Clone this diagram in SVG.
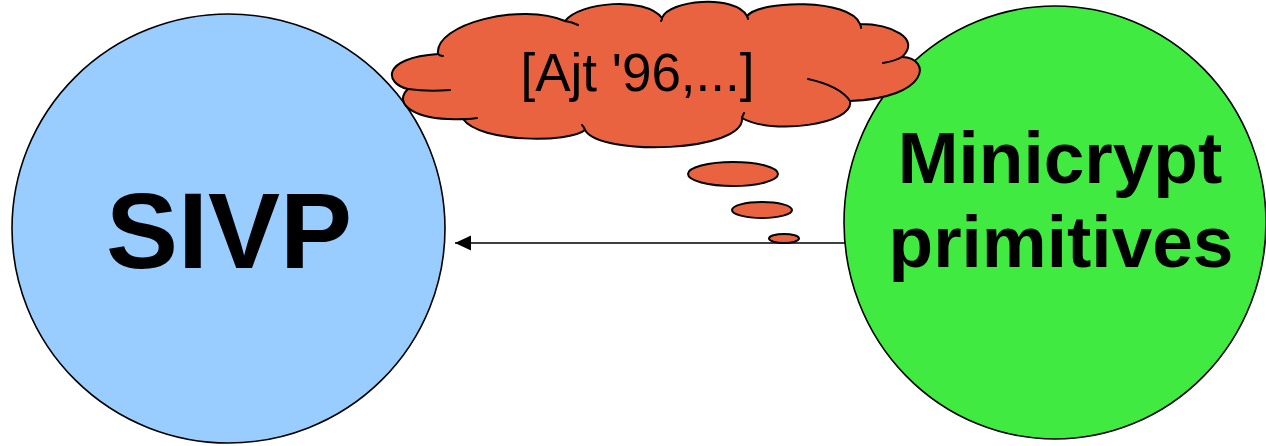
<svg xmlns="http://www.w3.org/2000/svg" width="1266" height="446" viewBox="0 0 1266 446">
  <defs>
    <marker id="arrowhead" markerWidth="17" markerHeight="16" refX="16" refY="8" orient="auto" markerUnits="userSpaceOnUse">
      <path d="M0,0.5 L16,8 L0,15.5 Z" fill="#000"/>
    </marker>
    <style>
      .node { stroke: #000; stroke-width: 1.6; }
      .cloud { fill: #E96341; stroke: #000; stroke-width: 2; }
      .tail { fill: none; stroke: #000; stroke-width: 2; stroke-linecap: round; }
      .big { font-family: "Liberation Sans", Arial, sans-serif; font-weight: bold; fill: #000; text-anchor: middle; }
      .label { font-family: "Liberation Sans", Arial, sans-serif; fill: #000; text-anchor: middle; }
      .edge { stroke: #000; stroke-width: 1.6; fill: none; }
    </style>
  </defs>

  <rect width="1266" height="446" fill="#fff"/>

  <!-- SIVP -->
  <g id="sivp">
    <ellipse class="node" cx="228.5" cy="228.5" rx="216.5" ry="214.5" fill="#99CCFF"/>
    <text class="big" x="229" y="268" font-size="108">SIVP</text>
  </g>

  <!-- Minicrypt primitives -->
  <g id="minicrypt">
    <ellipse class="node" cx="1055" cy="222.5" rx="211" ry="216.5" fill="#40EA40"/>
    <text class="big" x="1060" y="183" font-size="73">Minicrypt</text>
    <text class="big" x="1061" y="267" font-size="73">primitives</text>
  </g>

  <!-- implication arrow -->
  <g id="connectors">
    <line class="edge" x1="845" y1="243" x2="455" y2="243" marker-end="url(#arrowhead)"/>
  </g>

  <!-- thought cloud with its trail of bubbles -->
  <g id="thought">
    <ellipse class="cloud" cx="733" cy="174" rx="45" ry="12"/>
    <ellipse class="cloud" cx="762" cy="210" rx="30" ry="8"/>
    <ellipse class="cloud" cx="784" cy="238.5" rx="15" ry="4.5"/>
    <path class="cloud" d="M438,54
      C434,24 522,2 565,21
      C580,2 645,-4 662,18
      C668,0 735,-6 747,16
      C760,0 850,-2 860,24
      C890,24 922,38 902,57
      C932,58 930,98 850,101
      C855,125 770,135 742,118
      C745,152 600,157 585,130
      C570,143 480,143 463,119
      C415,121 392,104 408,89
      C385,84 380,58 438,54 Z"/>
    <path class="tail" d="M408,89 Q428,92 450,90"/>
    <path class="tail" d="M463,119 Q470,119.5 477,118"/>
    <path class="tail" d="M565,21 Q572,22 578,25"/>
    <path class="tail" d="M438,54 Q440,56 443,56"/>
    <path class="tail" d="M662,18 Q662,20 661,21"/>
    <path class="tail" d="M747,16 Q748,18 748,19"/>
    <path class="tail" d="M860,24 Q861,26 861,28"/>
    <path class="tail" d="M902,57 Q895,61 883,63"/>
    <path class="tail" d="M808,79 Q840,86 850,101"/>
    <path class="tail" d="M742,118 Q743,115 744,113"/>
    <path class="tail" d="M585,130 Q584,127 582,125"/>
    <text class="label" x="637.5" y="91" font-size="53">[Ajt '96,...]</text>
  </g>
</svg>
